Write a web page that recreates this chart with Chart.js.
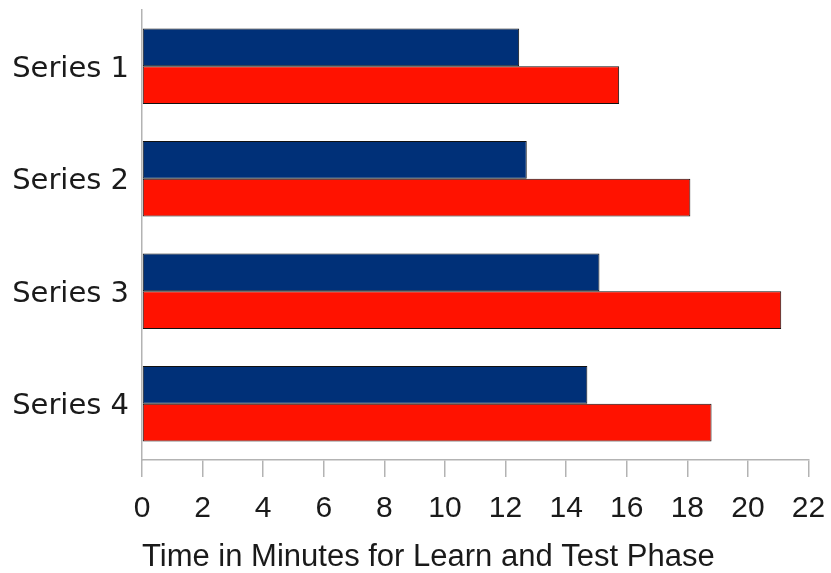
<!DOCTYPE html>
<html>
<head>
<meta charset="utf-8">
<script src="https://cdn.jsdelivr.net/npm/chart.js@4/dist/chart.umd.min.js"></script>
<style>
  html, body { margin: 0; padding: 0; background: #ffffff; }
  #wrap { width: 831px; height: 573px; }
</style>
</head>
<body>
<div id="wrap"><canvas id="chart" width="831" height="573"></canvas></div>
<script>
// Categories and the two timing series (minutes)
const categories = ['Series 1', 'Series 2', 'Series 3', 'Series 4'];
const learnTimes = [12.45, 12.7, 15.1, 14.7];
const testTimes = [15.75, 18.1, 21.1, 18.8];
const xTickValues = [0, 2, 4, 6, 8, 10, 12, 14, 16, 18, 20, 22];
const xAxisTitle = 'Time in Minutes for Learn and Test Phase';

const axisGray = '#b3b3b3';
const textColor = '#1a1a1a';

new Chart(document.getElementById('chart'), {
  type: 'bar',
  data: {
    labels: categories,
    datasets: [
      {
        label: 'Learn',
        data: learnTimes,
        backgroundColor: '#003078',
        borderColor: '#111111',
        borderWidth: 1,
        borderSkipped: false
      },
      {
        label: 'Test',
        data: testTimes,
        backgroundColor: '#ff1200',
        borderColor: '#111111',
        borderWidth: 1,
        borderSkipped: false
      }
    ]
  },
  options: {
    indexAxis: 'y',
    responsive: false,
    animation: false,
    devicePixelRatio: 1,
    datasets: {
      bar: { categoryPercentage: 0.67, barPercentage: 1.0 }
    },
    layout: { padding: { top: 10, right: 22.5, left: 0, bottom: 0 } },
    plugins: {
      legend: { display: false },
      tooltip: { enabled: false }
    },
    scales: {
      x: {
        type: 'linear',
        min: 0,
        max: 22,
        afterBuildTicks: (scale) => {
          scale.ticks = xTickValues.map(v => ({ value: v }));
        },
        afterFit: (scale) => {
          scale.height = 113;
          scale.paddingLeft = 0;
          scale.paddingRight = 0;
        },
        border: { display: true, color: axisGray, width: 1.5 },
        grid: {
          display: true,
          drawOnChartArea: false,
          drawTicks: true,
          tickLength: 17,
          color: axisGray,
          lineWidth: 1.5
        },
        ticks: {
          padding: 14,
          color: textColor,
          font: { family: '"Liberation Sans", Arial, sans-serif', size: 30 },
          maxRotation: 0,
          autoSkip: false
        },
        title: {
          display: true,
          text: xAxisTitle,
          align: 'start',
          color: textColor,
          font: { family: '"Liberation Sans", Arial, sans-serif', size: 31, lineHeight: 1 },
          padding: { top: 0, bottom: 0 }
        }
      },
      y: {
        type: 'category',
        afterFit: (scale) => {
          scale.width = 142;
          scale.paddingTop = 0;
          scale.paddingBottom = 0;
        },
        border: { display: true, color: axisGray, width: 1.5 },
        grid: { display: false },
        ticks: {
          padding: 5,
          labelOffset: 3,
          color: textColor,
          font: { family: '"DejaVu Sans", sans-serif', size: 29 }
        }
      }
    }
  }
});
</script>
</body>
</html>
